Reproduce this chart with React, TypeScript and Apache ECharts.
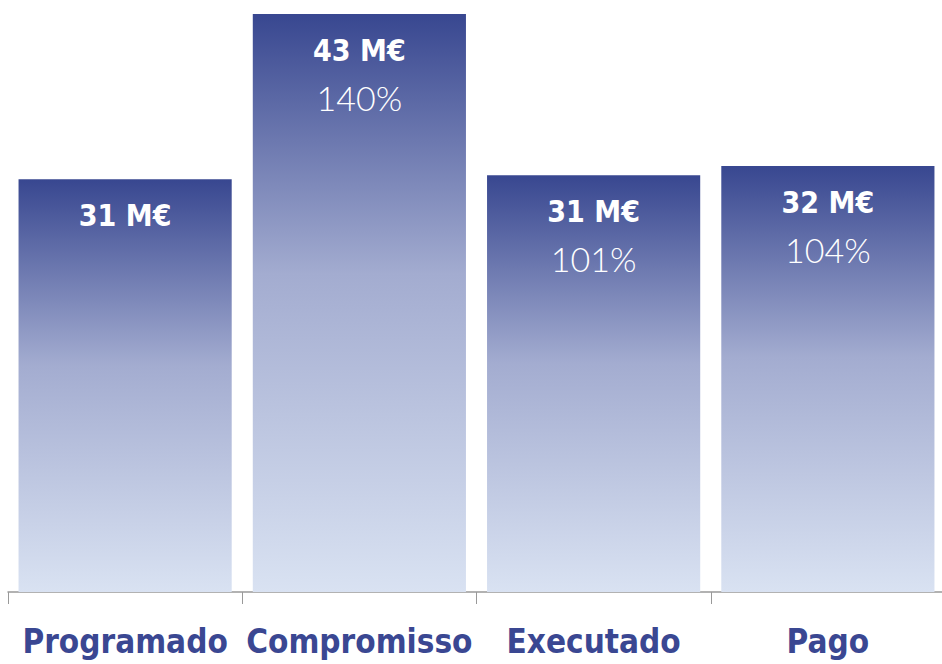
import React, { useEffect, useRef } from "react";
import * as echarts from "echarts";

const categories = ["Programado", "Compromisso", "Executado", "Pago"];
const values = [30.7, 43.0, 31.0, 31.7];
const valueLabels = ["31 M€", "43 M€", "31 M€", "32 M€"];
const pctLabels = ["", "140%", "101%", "104%"];

const FONT = "'DejaVu Sans Condensed', 'Liberation Sans Narrow', 'DejaVu Sans', sans-serif";

export default function App() {
  const ref = useRef<HTMLDivElement>(null);
  useEffect(() => {
    if (!ref.current) return;
    const chart = echarts.init(ref.current, null, { renderer: "svg" });
    const grad = new echarts.graphic.LinearGradient(0, 0, 0, 1, [
      { offset: 0, color: "#384790" },
      { offset: 0.45, color: "#a3acd0" },
      { offset: 1, color: "#d9e2f2" },
    ]);
    chart.setOption({
      animation: false,
      grid: { left: 8, right: 0, top: 14, bottom: 72 },
      xAxis: {
        type: "category",
        data: categories,
        axisLine: { lineStyle: { color: "#999", width: 1.5 } },
        axisTick: { show: true, length: 12, interval: 0, lineStyle: { color: "#999", width: 1 } },
        axisLabel: {
          interval: 0,
          hideOverlap: false,
          margin: 33,
          fontFamily: FONT,
          fontWeight: "bold",
          fontSize: 33,
          color: "#3a4792",
        },
      },
      yAxis: { type: "value", min: 0, max: 43, show: false },
      series: [
        {
          type: "bar",
          data: values.map((v, i) => ({
            value: v,
            label: {
              formatter: pctLabels[i]
                ? `{a|${valueLabels[i]}}\n{b|${pctLabels[i]}}`
                : `{a|${valueLabels[i]}}`,
            },
          })),
          barCategoryGap: "9%",
          itemStyle: { color: grad },
          label: {
            show: true,
            position: "insideTop",
            distance: 13,
            rich: {
              a: {
                fontFamily: FONT,
                fontWeight: "bold",
                fontSize: 30,
                color: "#fff",
                lineHeight: 47,
              },
              b: {
                fontFamily: "Lato, 'Open Sans', sans-serif",
                fontWeight: 300,
                fontSize: 34,
                color: "#fff",
                lineHeight: 47,
              },
            },
          },
        },
      ],
    });
    return () => chart.dispose();
  }, []);
  return (
    <div
      ref={ref}
      style={{ position: "fixed", left: 0, top: 0, width: 945, height: 664, background: "#fff" }}
    />
  );
}
